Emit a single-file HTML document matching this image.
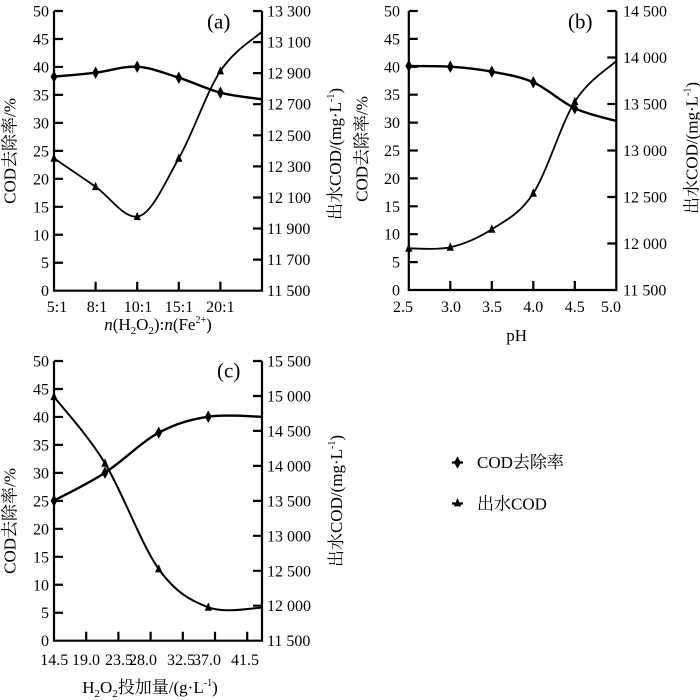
<!DOCTYPE html>
<html>
<head>
<meta charset="utf-8">
<style>
html,body{margin:0;padding:0;background:#fff;}
svg{display:block;}
text{font-family:"Liberation Serif","Noto Serif CJK SC",serif;fill:#000;}
.t{font-size:16px;}
.l{font-size:17px;}
.p{font-size:21px;}
</style>
</head>
<body>
<svg width="700" height="700" viewBox="0 0 700 700" xmlns="http://www.w3.org/2000/svg">
<defs>
<path id="dm" d="M0,-6.2 L3.4,0 L0,6.2 L-3.4,0Z" fill="#000"/>
<path id="tr" d="M0,-5 L3.6,3.4 L-3.6,3.4Z" fill="#000"/>
</defs>
<rect width="700" height="700" fill="#fff"/>

<!-- ================= (a) ================= -->
<g stroke="#000" stroke-width="2.2" fill="none">
<path d="M54,11 V290.7 H262 V11"/>
<path d="M54,262.73h9M54,234.76h9M54,206.79h9M54,178.82h9M54,150.85h9M54,122.88h9M54,94.91h9M54,66.94h9M54,38.97h9M54,11h9"/>
<path d="M262,259.6h-9M262,228.5h-9M262,197.5h-9M262,166.4h-9M262,135.3h-9M262,104.2h-9M262,73.1h-9M262,42.1h-9M262,11h-9"/>
<path d="M95.6,290.7v-9M137.2,290.7v-9M178.8,290.7v-9M220.4,290.7v-9"/>
</g>
<g class="t" text-anchor="end">
<text x="49" y="296.2">0</text><text x="49" y="268.2">5</text><text x="49" y="240.3">10</text><text x="49" y="212.3">15</text><text x="49" y="184.3">20</text><text x="49" y="156.4">25</text><text x="49" y="128.4">30</text><text x="49" y="100.4">35</text><text x="49" y="72.4">40</text><text x="49" y="44.5">45</text><text x="49" y="16.5">50</text>
</g>
<g class="t">
<text x="267" y="296.2">11 500</text><text x="267" y="265.1">11 700</text><text x="267" y="234">11 900</text><text x="267" y="203">12 100</text><text x="267" y="171.9">12 300</text><text x="267" y="140.8">12 500</text><text x="267" y="109.7">12 700</text><text x="267" y="78.6">12 900</text><text x="267" y="47.6">13 100</text><text x="267" y="16.5">13 300</text>
</g>
<g class="t" text-anchor="middle">
<text x="57" y="312">5:1</text><text x="97" y="312">8:1</text><text x="138" y="312">10:1</text><text x="179" y="312">15:1</text><text x="220.4" y="312">20:1</text>
</g>
<text class="p" x="207" y="28.6">(a)</text>
<text class="l" x="158" y="330" text-anchor="middle"><tspan font-style="italic">n</tspan>(H<tspan font-size="11" dy="4">2</tspan><tspan dy="-4">O</tspan><tspan font-size="11" dy="4">2</tspan><tspan dy="-4">):</tspan><tspan font-style="italic">n</tspan>(Fe<tspan font-size="10" dy="-7">2+</tspan><tspan dy="7">)</tspan></text>
<text class="l" text-anchor="middle" transform="translate(15.5,151) rotate(-90)">COD去除率/%</text>
<text class="l" text-anchor="middle" transform="translate(341,154) rotate(-90)">出水COD/(mg·L<tspan font-size="10" dy="-7">-1</tspan><tspan dy="7">)</tspan></text>
<path d="M54,76.7 C60.9,76.0 81.7,74.4 95.6,72.7 C109.5,71.0 123.3,65.9 137.2,66.7 C151.1,67.5 164.9,73.4 178.8,77.7 C192.7,82.0 206.5,89.1 220.4,92.7 C234.3,96.3 255.1,98.2 262,99.3" fill="none" stroke="#000" stroke-width="2.4"/>
<path d="M54,158.3 C60.9,163.0 81.7,177.0 95.6,186.7 C109.5,196.4 123.3,218.0 137.2,216.7 C151.1,215.4 164.9,182.6 178.8,158.3 C192.7,134.0 206.5,92.1 220.4,71 C234.3,49.9 255.1,38.2 262,31.7" fill="none" stroke="#000" stroke-width="1.8"/>
<use href="#dm" x="54" y="76.7"/><use href="#dm" x="95.6" y="72.7"/><use href="#dm" x="137.2" y="66.7"/><use href="#dm" x="178.8" y="77.7"/><use href="#dm" x="220.4" y="92.7"/>
<use href="#tr" x="54" y="158.3"/><use href="#tr" x="95.6" y="186.7"/><use href="#tr" x="137.2" y="216.7"/><use href="#tr" x="178.8" y="158.3"/><use href="#tr" x="220.4" y="71"/>

<!-- ================= (b) ================= -->
<g stroke="#000" stroke-width="2.2" fill="none">
<path d="M408.8,11 V290 H616.3 V11"/>
<path d="M408.8,262.1h9M408.8,234.2h9M408.8,206.3h9M408.8,178.4h9M408.8,150.5h9M408.8,122.6h9M408.8,94.7h9M408.8,66.8h9M408.8,38.9h9M408.8,11h9"/>
<path d="M616.3,243.5h-9M616.3,197h-9M616.3,150.5h-9M616.3,104h-9M616.3,57.5h-9M616.3,11h-9"/>
<path d="M450.3,290v-9M491.8,290v-9M533.3,290v-9M574.8,290v-9"/>
</g>
<g class="t" text-anchor="end">
<text x="400" y="295.5">0</text><text x="400" y="267.6">5</text><text x="400" y="239.7">10</text><text x="400" y="211.8">15</text><text x="400" y="183.9">20</text><text x="400" y="156">25</text><text x="400" y="128.1">30</text><text x="400" y="100.2">35</text><text x="400" y="72.3">40</text><text x="400" y="44.4">45</text><text x="400" y="16.5">50</text>
</g>
<g class="t">
<text x="623" y="295.5">11 500</text><text x="623" y="249">12 000</text><text x="623" y="202.5">12 500</text><text x="623" y="156">13 000</text><text x="623" y="109.5">13 500</text><text x="623" y="63">14 000</text><text x="623" y="16.5">14 500</text>
</g>
<g class="t" text-anchor="middle">
<text x="403" y="312">2.5</text><text x="451" y="312">3.0</text><text x="492" y="312">3.5</text><text x="533.3" y="312">4.0</text><text x="574.8" y="312">4.5</text><text x="611" y="312">5.0</text>
</g>
<text class="p" x="568" y="28.6">(b)</text>
<text class="l" x="516.7" y="341" text-anchor="middle">pH</text>
<text class="l" text-anchor="middle" transform="translate(367.5,149) rotate(-90)">COD去除率/%</text>
<text class="l" text-anchor="middle" transform="translate(697.7,148) rotate(-90)">出水COD/(mg·L<tspan font-size="10" dy="-7">-1</tspan><tspan dy="7">)</tspan></text>
<path d="M408.8,66 C415.7,66.1 436.5,65.75 450.3,66.7 C464.1,67.65 478.0,69.1 491.8,71.7 C505.6,74.3 519.5,76.2 533.3,82.3 C547.1,88.4 561.0,101.85 574.8,108.3 C588.6,114.75 609.4,118.9 616.3,121" fill="none" stroke="#000" stroke-width="2.4"/>
<path d="M408.8,248.3 C415.7,248.1 436.5,250.5 450.3,247.3 C464.1,244.1 478.0,238.3 491.8,229.3 C505.6,220.3 519.5,214.6 533.3,193.3 C547.1,172.0 561.0,123.75 574.8,101.7 C588.6,79.65 609.4,67.8 616.3,61" fill="none" stroke="#000" stroke-width="1.8"/>
<use href="#dm" x="408.8" y="66"/><use href="#dm" x="450.3" y="66.7"/><use href="#dm" x="491.8" y="71.7"/><use href="#dm" x="533.3" y="82.3"/><use href="#dm" x="574.8" y="108.3"/>
<use href="#tr" x="408.8" y="248.3"/><use href="#tr" x="450.3" y="247.3"/><use href="#tr" x="491.8" y="229.3"/><use href="#tr" x="533.3" y="193.3"/><use href="#tr" x="574.8" y="101.7"/>

<!-- ================= (c) ================= -->
<g stroke="#000" stroke-width="2.2" fill="none">
<path d="M54,361 V640.7 H262 V361"/>
<path d="M54,612.73h9M54,584.76h9M54,556.79h9M54,528.82h9M54,500.85h9M54,472.88h9M54,444.91h9M54,416.94h9M54,388.97h9M54,361h9"/>
<path d="M262,605.7h-9M262,570.8h-9M262,535.8h-9M262,500.9h-9M262,465.9h-9M262,430.9h-9M262,396h-9M262,361h-9"/>
<path d="M86.2,640.7v-9M118.4,640.7v-9M150.6,640.7v-9M182.8,640.7v-9M215,640.7v-9M247.2,640.7v-9"/>
</g>
<g class="t" text-anchor="end">
<text x="49" y="646.2">0</text><text x="49" y="618.2">5</text><text x="49" y="590.3">10</text><text x="49" y="562.3">15</text><text x="49" y="534.3">20</text><text x="49" y="506.4">25</text><text x="49" y="478.4">30</text><text x="49" y="450.4">35</text><text x="49" y="422.4">40</text><text x="49" y="394.5">45</text><text x="49" y="366.5">50</text>
</g>
<g class="t">
<text x="267" y="646.2">11 500</text><text x="267" y="611.2">12 000</text><text x="267" y="576.3">12 500</text><text x="267" y="541.3">13 000</text><text x="267" y="506.4">13 500</text><text x="267" y="471.4">14 000</text><text x="267" y="436.4">14 500</text><text x="267" y="401.5">15 000</text><text x="267" y="366.5">15 500</text>
</g>
<g class="t" text-anchor="middle">
<text x="54.2" y="665">14.5</text><text x="86" y="665">19.0</text><text x="119" y="665">23.5</text><text x="143" y="665">28.0</text><text x="181" y="665">32.5</text><text x="207" y="665">37.0</text><text x="245" y="665">41.5</text>
</g>
<text class="p" x="217" y="377.5">(c)</text>
<text class="l" x="150" y="693" text-anchor="middle">H<tspan font-size="11" dy="4">2</tspan><tspan dy="-4">O</tspan><tspan font-size="11" dy="4">2</tspan><tspan dy="-4">投加量/(g·L</tspan><tspan font-size="10" dy="-7">-1</tspan><tspan dy="7">)</tspan></text>
<text class="l" text-anchor="middle" transform="translate(15.5,521) rotate(-90)">COD去除率/%</text>
<text class="l" text-anchor="middle" transform="translate(342,501) rotate(-90)">出水COD/(mg·L<tspan font-size="10" dy="-7">-1</tspan><tspan dy="7">)</tspan></text>
<path d="M54,500.7 C62.5,496.0 87.55,484.0 105,472.7 C122.45,461.4 141.5,442.0 158.7,432.7 C175.9,423.4 191.1,419.4 208.3,416.7 C225.5,414.0 253.05,416.7 262,416.7" fill="none" stroke="#000" stroke-width="2.4"/>
<path d="M54,396.7 C62.5,407.8 87.55,434.6 105,463.3 C122.45,492.0 141.5,545.0 158.7,569 C175.9,593.0 191.1,600.85 208.3,607.3 C225.5,613.75 253.05,607.6 262,607.7" fill="none" stroke="#000" stroke-width="2"/>
<use href="#dm" x="54" y="500.7"/><use href="#dm" x="105" y="472.7"/><use href="#dm" x="158.7" y="432.7"/><use href="#dm" x="208.3" y="416.7"/>
<use href="#tr" x="54" y="396.7"/><use href="#tr" x="105" y="463.3"/><use href="#tr" x="158.7" y="569"/><use href="#tr" x="208.3" y="607.3"/>

<!-- ================= legend ================= -->
<path d="M452,462.5h11M452,503.5h11" stroke="#000" stroke-width="2.2"/>
<use href="#dm" x="457.5" y="462.5"/>
<use href="#tr" x="457.5" y="503"/>
<text class="l" x="477" y="468">COD去除率</text>
<text class="l" x="477" y="509.5">出水COD</text>
</svg>
</body>
</html>
